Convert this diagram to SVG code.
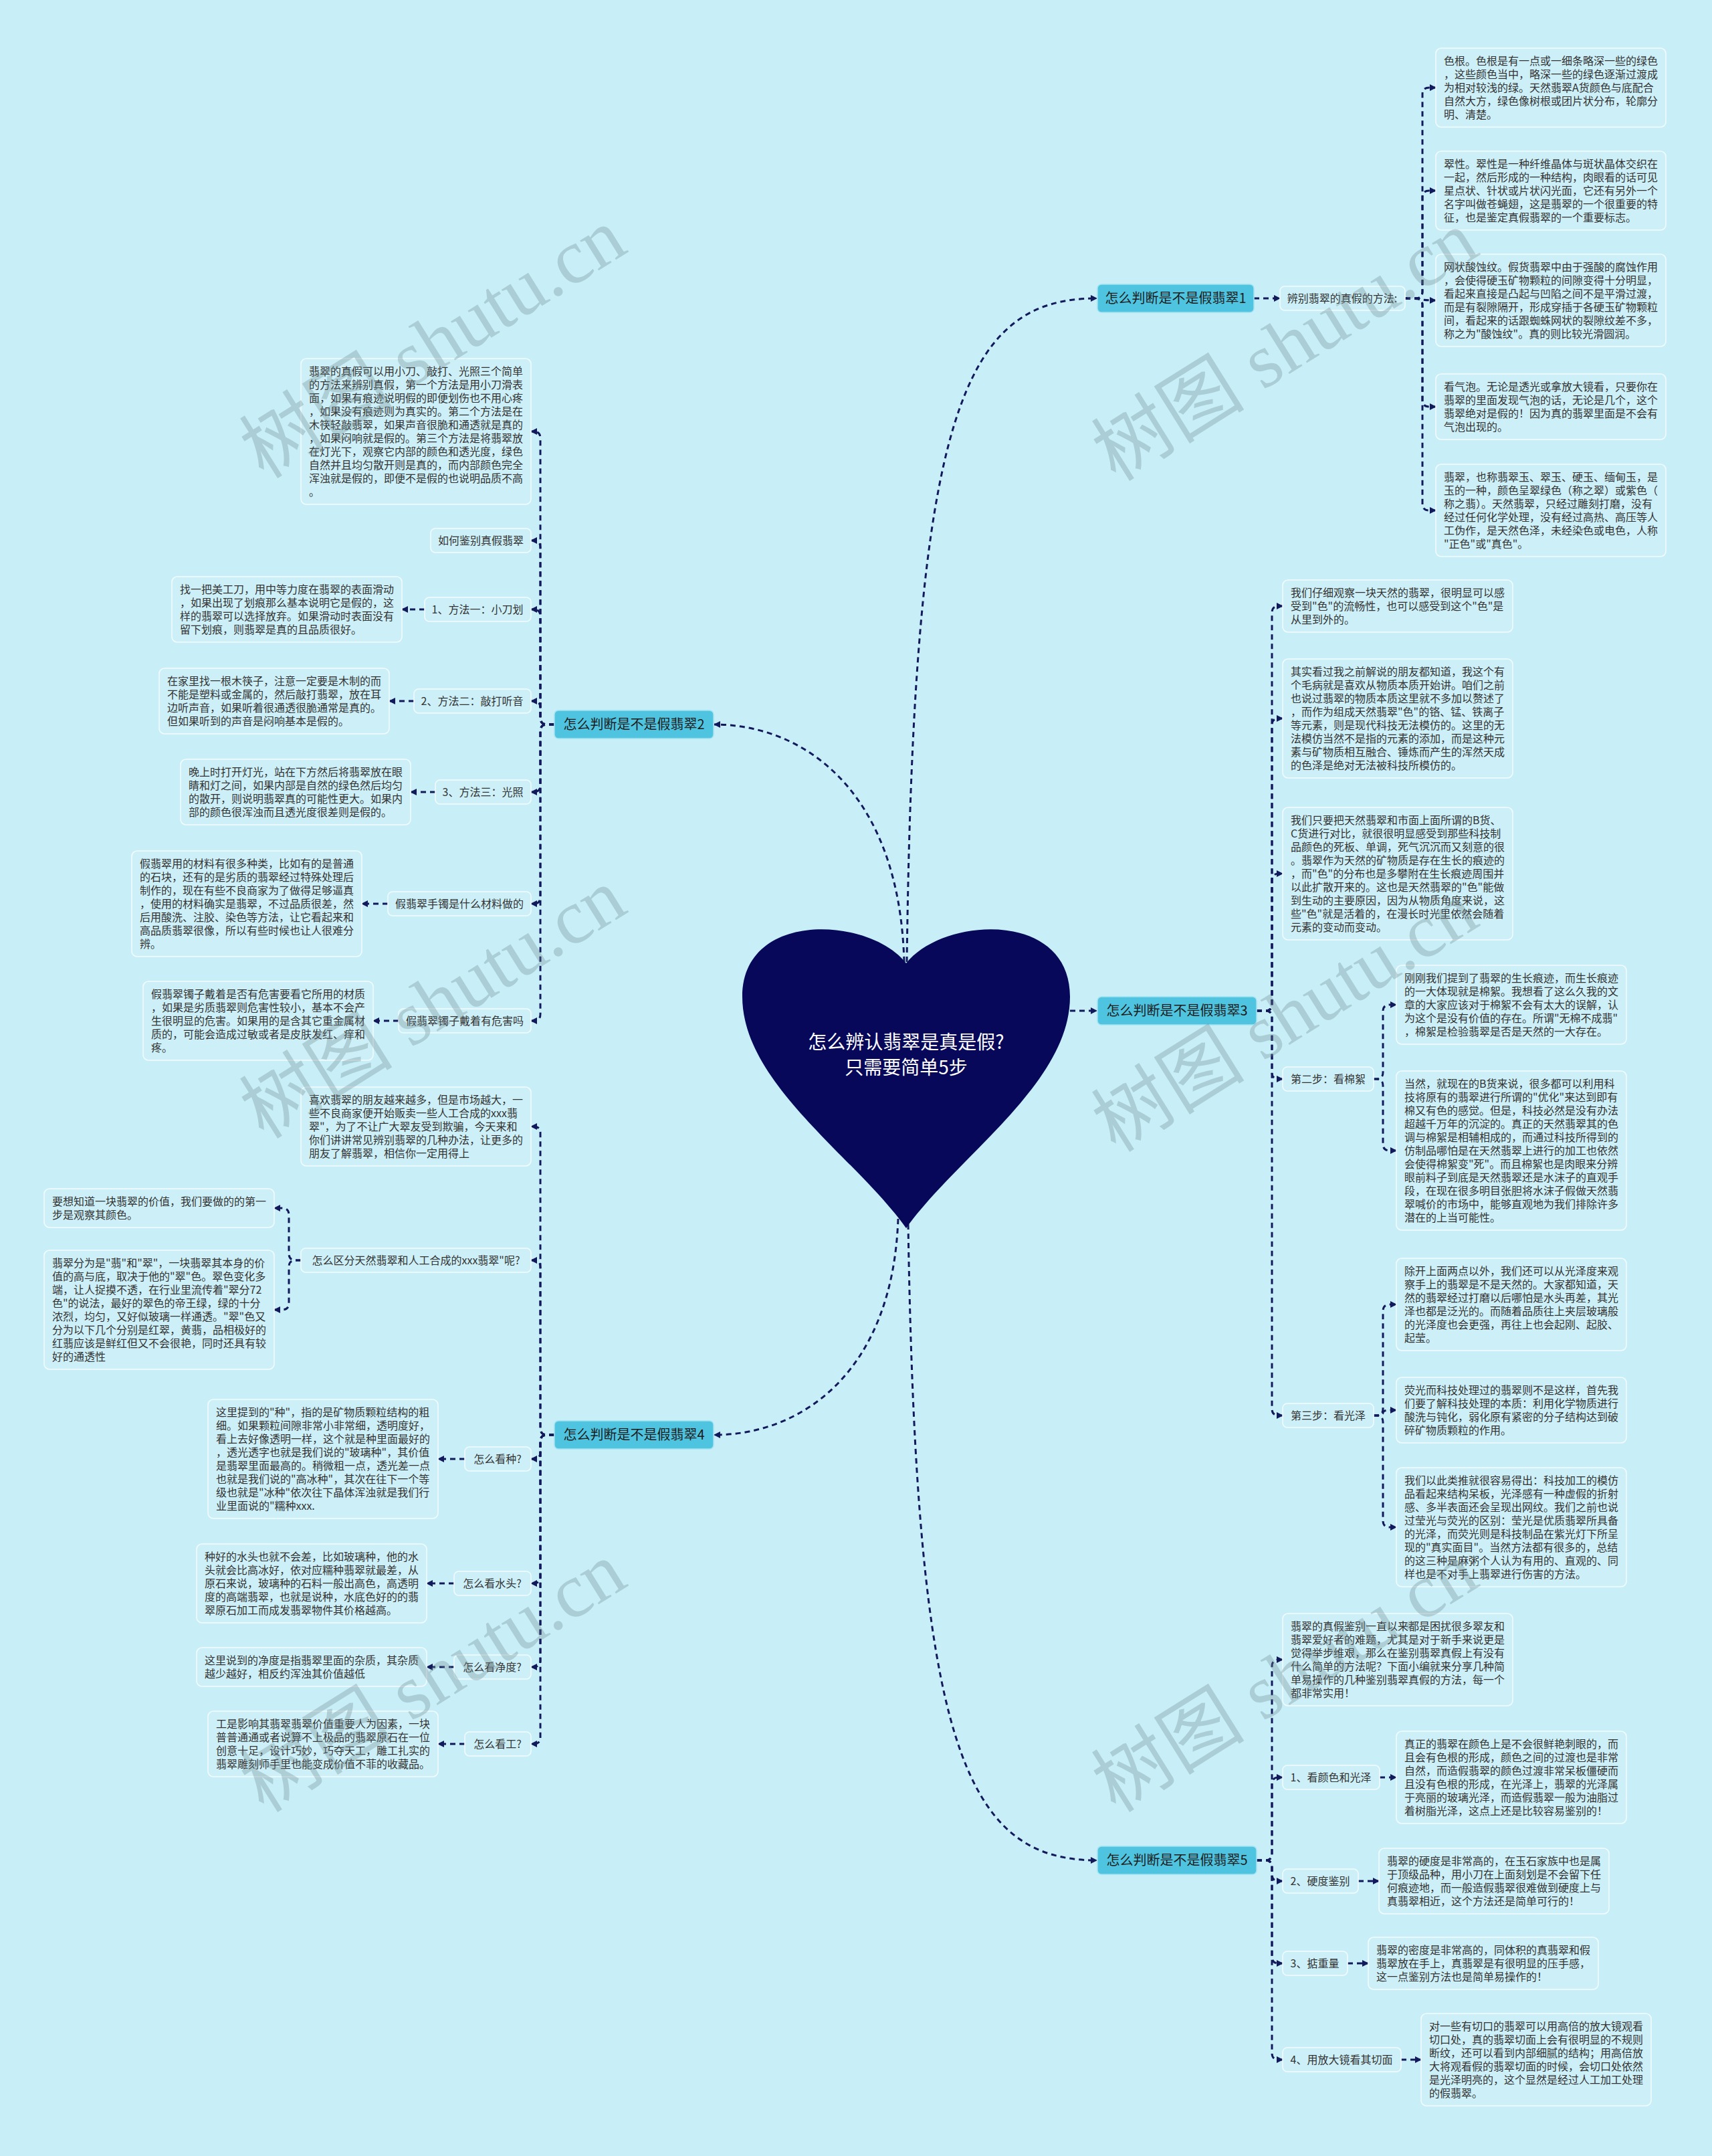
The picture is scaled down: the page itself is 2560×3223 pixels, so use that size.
<svg xmlns="http://www.w3.org/2000/svg" width="2560" height="3223" viewBox="0 0 2560 3223">
<defs>
<marker id="ar" viewBox="0 0 10 10" refX="9" refY="5" markerWidth="10" markerHeight="10" markerUnits="userSpaceOnUse" orient="auto"><path d="M0,0 L10,5 L0,10 z" fill="#121a5c"/></marker>
<style>
.box{fill:#cdf0f8;stroke:#f2fbfd;stroke-width:1.6}
.t{font-family:"Noto Sans CJK SC","Noto Sans",sans-serif;font-size:16px;fill:#333}
.lb{font-family:"Noto Sans CJK SC","Noto Sans",sans-serif;font-size:16px;fill:#333;text-anchor:middle}
.br{fill:#4fc4e0;stroke:#a3e2f0;stroke-width:1.6}
.bt{font-family:"Noto Sans CJK SC","Noto Sans",sans-serif;font-size:20px;fill:#1c1c1c;text-anchor:middle}
.cn{fill:none;stroke:#121a5c;stroke-width:3;stroke-dasharray:8 6;marker-end:url(#ar)}
.wm{font-family:"Liberation Serif","Noto Sans CJK SC",serif;font-size:115px;fill:#6f8a90;fill-opacity:0.33;text-anchor:middle}
</style>
</defs>
<rect x="0" y="0" width="2560" height="3223" fill="#c8eff8"/>

<g id="connectors">
<path class="cn" d="M1356,1438 C1366,620 1440,446 1640,446"/>
<path class="cn" d="M1352,1438 C1345,1180 1200,1083 1068,1083"/>
<path class="cn" d="M1600,1511 L1640,1511"/>
<path class="cn" d="M1343,1822 C1335,2050 1200,2145 1068,2145"/>
<path class="cn" d="M1358,1830 C1370,2600 1440,2781 1640,2781"/>

<path class="cn" d="M1875,446 L1914,446"/>
<path class="cn" d="M2101,446 L2117,446 Q2127,446 2127,436 L2127,141 Q2127,131 2137,131 L2147,131"/>
<path class="cn" d="M2101,446 L2117,446 Q2127,446 2127,436 L2127,295 Q2127,285 2137,285 L2147,285"/>
<path class="cn" d="M2101,446 C2127,446 2121,449 2147,449"/>
<path class="cn" d="M2101,446 L2117,446 Q2127,446 2127,456 L2127,598 Q2127,608 2137,608 L2147,608"/>
<path class="cn" d="M2101,446 L2117,446 Q2127,446 2127,456 L2127,753 Q2127,763 2137,763 L2147,763"/>

<path class="cn" d="M829,1083 L818,1083 Q808,1083 808,1073 L808,655 Q808,645 798,645 L794,645"/>
<path class="cn" d="M829,1083 L818,1083 Q808,1083 808,1073 L808,818 Q808,808 798,808 L794,808"/>
<path class="cn" d="M829,1083 L818,1083 Q808,1083 808,1073 L808,921 Q808,911 798,911 L794,911"/>
<path class="cn" d="M829,1083 L818,1083 Q808,1083 808,1073 L808,1058 Q808,1048 798,1048 L794,1048"/>
<path class="cn" d="M829,1083 L818,1083 Q808,1083 808,1093 L808,1174 Q808,1184 798,1184 L794,1184"/>
<path class="cn" d="M829,1083 L818,1083 Q808,1083 808,1093 L808,1341 Q808,1351 798,1351 L794,1351"/>
<path class="cn" d="M829,1083 L818,1083 Q808,1083 808,1093 L808,1516 Q808,1526 798,1526 L794,1526"/>
<path class="cn" d="M635,911 L601,911"/>
<path class="cn" d="M619,1048 L582,1048"/>
<path class="cn" d="M651,1184 L614,1184"/>
<path class="cn" d="M580,1351 L541,1351"/>
<path class="cn" d="M596,1526 L558,1526"/>

<path class="cn" d="M829,2145 L818,2145 Q808,2145 808,2135 L808,1694 Q808,1684 798,1684 L794,1684"/>
<path class="cn" d="M829,2145 L818,2145 Q808,2145 808,2135 L808,1894 Q808,1884 798,1884 L794,1884"/>
<path class="cn" d="M829,2145 L818,2145 Q808,2145 808,2155 L808,2171 Q808,2181 798,2181 L794,2181"/>
<path class="cn" d="M829,2145 L818,2145 Q808,2145 808,2155 L808,2357 Q808,2367 798,2367 L794,2367"/>
<path class="cn" d="M829,2145 L818,2145 Q808,2145 808,2155 L808,2482 Q808,2492 798,2492 L794,2492"/>
<path class="cn" d="M829,2145 L818,2145 Q808,2145 808,2155 L808,2597 Q808,2607 798,2607 L794,2607"/>
<path class="cn" d="M450,1884 L442,1884 Q432,1884 432,1874 L432,1816 Q432,1806 422,1806 L410,1806"/>
<path class="cn" d="M450,1884 L442,1884 Q432,1884 432,1894 L432,1948 Q432,1958 422,1958 L410,1958"/>
<path class="cn" d="M695,2181 L655,2181"/>
<path class="cn" d="M679,2367 L638,2367"/>
<path class="cn" d="M679,2492 L638,2492"/>
<path class="cn" d="M695,2607 L655,2607"/>

<path class="cn" d="M1879,1511 L1892,1511 Q1902,1511 1902,1501 L1902,916 Q1902,906 1912,906 L1918,906"/>
<path class="cn" d="M1879,1511 L1892,1511 Q1902,1511 1902,1501 L1902,1084 Q1902,1074 1912,1074 L1918,1074"/>
<path class="cn" d="M1879,1511 L1892,1511 Q1902,1511 1902,1501 L1902,1316 Q1902,1306 1912,1306 L1918,1306"/>
<path class="cn" d="M1879,1511 L1892,1511 Q1902,1511 1902,1521 L1902,1603 Q1902,1613 1912,1613 L1918,1613"/>
<path class="cn" d="M1879,1511 L1892,1511 Q1902,1511 1902,1521 L1902,2106 Q1902,2116 1912,2116 L1918,2116"/>
<path class="cn" d="M2054,1613 L2058,1613 Q2068,1613 2068,1603 L2068,1512 Q2068,1502 2078,1502 L2088,1502"/>
<path class="cn" d="M2054,1613 L2058,1613 Q2068,1613 2068,1623 L2068,1710 Q2068,1720 2078,1720 L2088,1720"/>
<path class="cn" d="M2054,2116 L2058,2116 Q2068,2116 2068,2106 L2068,1960 Q2068,1950 2078,1950 L2088,1950"/>
<path class="cn" d="M2054,2116 L2058,2116 Q2068,2116 2068,2112 Q2068,2108 2078,2108 L2088,2108"/>
<path class="cn" d="M2054,2116 L2058,2116 Q2068,2116 2068,2126 L2068,2273 Q2068,2283 2078,2283 L2088,2283"/>

<path class="cn" d="M1879,2781 L1892,2781 Q1902,2781 1902,2771 L1902,2491 Q1902,2481 1912,2481 L1918,2481"/>
<path class="cn" d="M1879,2781 L1892,2781 Q1902,2781 1902,2771 L1902,2667 Q1902,2657 1912,2657 L1918,2657"/>
<path class="cn" d="M1879,2781 L1892,2781 Q1902,2781 1902,2791 L1902,2802 Q1902,2812 1912,2812 L1918,2812"/>
<path class="cn" d="M1879,2781 L1892,2781 Q1902,2781 1902,2791 L1902,2925 Q1902,2935 1912,2935 L1918,2935"/>
<path class="cn" d="M1879,2781 L1892,2781 Q1902,2781 1902,2791 L1902,3069 Q1902,3079 1912,3079 L1918,3079"/>
<path class="cn" d="M2063,2657 L2088,2657"/>
<path class="cn" d="M2031,2812 L2062,2812"/>
<path class="cn" d="M2015,2935 L2046,2935"/>
<path class="cn" d="M2095,3079 L2125,3079"/>
</g>

<g id="center">
<path d="M1355,1440 C1300,1370 1110,1360 1110,1490 C1110,1620 1280,1730 1355,1836 C1430,1730 1600,1620 1600,1490 C1600,1360 1410,1370 1355,1440 Z" fill="#07085a"/>
<text font-family="Noto Sans CJK SC, Noto Sans, sans-serif" font-size="28" fill="#ffffff" text-anchor="middle"><tspan x="1355" y="1568">怎么辨认翡翠是真是假?</tspan><tspan x="1355" y="1606">只需要简单5步</tspan></text>
</g>

<g id="b1"><rect class="br" x="1641" y="425" width="234" height="42" rx="6"/><text class="bt" x="1758" y="453">怎么判断是不是假翡翠1</text></g>
<g id="b2"><rect class="br" x="829" y="1062" width="238" height="42" rx="6"/><text class="bt" x="948" y="1090">怎么判断是不是假翡翠2</text></g>
<g id="b3"><rect class="br" x="1641" y="1490" width="238" height="42" rx="6"/><text class="bt" x="1760" y="1518">怎么判断是不是假翡翠3</text></g>
<g id="b4"><rect class="br" x="829" y="2124" width="238" height="42" rx="6"/><text class="bt" x="948" y="2152">怎么判断是不是假翡翠4</text></g>
<g id="b5"><rect class="br" x="1641" y="2760" width="238" height="42" rx="6"/><text class="bt" x="1760" y="2788">怎么判断是不是假翡翠5</text></g>

<g id="l-bianbie"><rect class="box" x="1914" y="428" width="187" height="36" rx="7"/><text class="lb" x="2007" y="452">辨别翡翠的真假的方法:</text></g>
<g id="n1-1"><rect class="box" x="2147" y="72" width="344" height="118" rx="8"/><text class="t"><tspan x="2159" y="97">色根。色根是有一点或一细条略深一些的绿色</tspan><tspan x="2159" dy="20">，这些颜色当中，略深一些的绿色逐渐过渡成</tspan><tspan x="2159" dy="20">为相对较浅的绿。天然翡翠A货颜色与底配合</tspan><tspan x="2159" dy="20">自然大方，绿色像树根或团片状分布，轮廓分</tspan><tspan x="2159" dy="20">明、清楚。</tspan></text></g>
<g id="n1-2"><rect class="box" x="2147" y="226" width="344" height="118" rx="8"/><text class="t"><tspan x="2159" y="251">翠性。翠性是一种纤维晶体与斑状晶体交织在</tspan><tspan x="2159" dy="20">一起，然后形成的一种结构，肉眼看的话可见</tspan><tspan x="2159" dy="20">星点状、针状或片状闪光面，它还有另外一个</tspan><tspan x="2159" dy="20">名字叫做苍蝇翅，这是翡翠的一个很重要的特</tspan><tspan x="2159" dy="20">征，也是鉴定真假翡翠的一个重要标志。</tspan></text></g>
<g id="n1-3"><rect class="box" x="2147" y="380" width="344" height="138" rx="8"/><text class="t"><tspan x="2159" y="405">网状酸蚀纹。假货翡翠中由于强酸的腐蚀作用</tspan><tspan x="2159" dy="20">，会使得硬玉矿物颗粒的间隙变得十分明显，</tspan><tspan x="2159" dy="20">看起来直接是凸起与凹陷之间不是平滑过渡，</tspan><tspan x="2159" dy="20">而是有裂隙隔开，形成穿插于各硬玉矿物颗粒</tspan><tspan x="2159" dy="20">间，看起来的话跟蜘蛛网状的裂隙纹差不多，</tspan><tspan x="2159" dy="20">称之为"酸蚀纹"。真的则比较光滑圆润。</tspan></text></g>
<g id="n1-4"><rect class="box" x="2147" y="559" width="344" height="98" rx="8"/><text class="t"><tspan x="2159" y="584">看气泡。无论是透光或拿放大镜看，只要你在</tspan><tspan x="2159" dy="20">翡翠的里面发现气泡的话，无论是几个，这个</tspan><tspan x="2159" dy="20">翡翠绝对是假的！因为真的翡翠里面是不会有</tspan><tspan x="2159" dy="20">气泡出现的。</tspan></text></g>
<g id="n1-5"><rect class="box" x="2147" y="694" width="344" height="138" rx="8"/><text class="t"><tspan x="2159" y="719">翡翠，也称翡翠玉、翠玉、硬玉、缅甸玉，是</tspan><tspan x="2159" dy="20">玉的一种，颜色呈翠绿色（称之翠）或紫色（</tspan><tspan x="2159" dy="20">称之翡）。天然翡翠，只经过雕刻打磨，没有</tspan><tspan x="2159" dy="20">经过任何化学处理，没有经过高热、高压等人</tspan><tspan x="2159" dy="20">工伪作，是天然色泽，未经染色或电色，人称</tspan><tspan x="2159" dy="20">"正色"或"真色"。</tspan></text></g>

<g id="n2-a"><rect class="box" x="450" y="536" width="344" height="218" rx="8"/><text class="t"><tspan x="462" y="561">翡翠的真假可以用小刀、敲打、光照三个简单</tspan><tspan x="462" dy="20">的方法来辨别真假，第一个方法是用小刀滑表</tspan><tspan x="462" dy="20">面，如果有痕迹说明假的即便划伤也不用心疼</tspan><tspan x="462" dy="20">，如果没有痕迹则为真实的。第二个方法是在</tspan><tspan x="462" dy="20">木筷轻敲翡翠，如果声音很脆和通透就是真的</tspan><tspan x="462" dy="20">，如果闷响就是假的。第三个方法是将翡翠放</tspan><tspan x="462" dy="20">在灯光下，观察它内部的颜色和透光度，绿色</tspan><tspan x="462" dy="20">自然并且均匀散开则是真的，而内部颜色完全</tspan><tspan x="462" dy="20">浑浊就是假的，即便不是假的也说明品质不高</tspan><tspan x="462" dy="20">。</tspan></text></g>
<g id="l-ruhe"><rect class="box" x="644" y="790" width="150" height="36" rx="7"/><text class="lb" x="719" y="814">如何鉴别真假翡翠</text></g>
<g id="l-m1"><rect class="box" x="635" y="893" width="159" height="36" rx="7"/><text class="lb" x="714" y="917">1、方法一：小刀划</text></g>
<g id="n2-b"><rect class="box" x="257" y="862" width="344" height="98" rx="8"/><text class="t"><tspan x="269" y="887">找一把美工刀，用中等力度在翡翠的表面滑动</tspan><tspan x="269" dy="20">，如果出现了划痕那么基本说明它是假的，这</tspan><tspan x="269" dy="20">样的翡翠可以选择放弃。如果滑动时表面没有</tspan><tspan x="269" dy="20">留下划痕，则翡翠是真的且品质很好。</tspan></text></g>
<g id="l-m2"><rect class="box" x="619" y="1030" width="175" height="36" rx="7"/><text class="lb" x="706" y="1054">2、方法二：敲打听音</text></g>
<g id="n2-c"><rect class="box" x="238" y="999" width="344" height="98" rx="8"/><text class="t"><tspan x="250" y="1024">在家里找一根木筷子，注意一定要是木制的而</tspan><tspan x="250" dy="20">不能是塑料或金属的，然后敲打翡翠，放在耳</tspan><tspan x="250" dy="20">边听声音，如果听着很通透很脆通常是真的。</tspan><tspan x="250" dy="20">但如果听到的声音是闷响基本是假的。</tspan></text></g>
<g id="l-m3"><rect class="box" x="651" y="1166" width="143" height="36" rx="7"/><text class="lb" x="722" y="1190">3、方法三：光照</text></g>
<g id="n2-d"><rect class="box" x="270" y="1135" width="344" height="98" rx="8"/><text class="t"><tspan x="282" y="1160">晚上时打开灯光，站在下方然后将翡翠放在眼</tspan><tspan x="282" dy="20">睛和灯之间，如果内部是自然的绿色然后均匀</tspan><tspan x="282" dy="20">的散开，则说明翡翠真的可能性更大。如果内</tspan><tspan x="282" dy="20">部的颜色很浑浊而且透光度很差则是假的。</tspan></text></g>
<g id="l-sz"><rect class="box" x="580" y="1333" width="214" height="36" rx="7"/><text class="lb" x="687" y="1357">假翡翠手镯是什么材料做的</text></g>
<g id="n2-e"><rect class="box" x="197" y="1272" width="344" height="158" rx="8"/><text class="t"><tspan x="209" y="1297">假翡翠用的材料有很多种类，比如有的是普通</tspan><tspan x="209" dy="20">的石块，还有的是劣质的翡翠经过特殊处理后</tspan><tspan x="209" dy="20">制作的，现在有些不良商家为了做得足够逼真</tspan><tspan x="209" dy="20">，使用的材料确实是翡翠，不过品质很差，然</tspan><tspan x="209" dy="20">后用酸洗、注胶、染色等方法，让它看起来和</tspan><tspan x="209" dy="20">高品质翡翠很像，所以有些时候也让人很难分</tspan><tspan x="209" dy="20">辨。</tspan></text></g>
<g id="l-zz"><rect class="box" x="596" y="1508" width="198" height="36" rx="7"/><text class="lb" x="695" y="1532">假翡翠镯子戴着有危害吗</text></g>
<g id="n2-f"><rect class="box" x="214" y="1467" width="344" height="118" rx="8"/><text class="t"><tspan x="226" y="1492">假翡翠镯子戴着是否有危害要看它所用的材质</tspan><tspan x="226" dy="20">，如果是劣质翡翠则危害性较小，基本不会产</tspan><tspan x="226" dy="20">生很明显的危害。如果用的是含其它重金属材</tspan><tspan x="226" dy="20">质的，可能会造成过敏或者是皮肤发红、痒和</tspan><tspan x="226" dy="20">疼。</tspan></text></g>

<g id="n4-g"><rect class="box" x="450" y="1625" width="344" height="118" rx="8"/><text class="t"><tspan x="462" y="1650">喜欢翡翠的朋友越来越多，但是市场越大，一</tspan><tspan x="462" dy="20">些不良商家便开始贩卖一些人工合成的xxx翡</tspan><tspan x="462" dy="20">翠"，为了不让广大翠友受到欺骗，今天来和</tspan><tspan x="462" dy="20">你们讲讲常见辨别翡翠的几种办法，让更多的</tspan><tspan x="462" dy="20">朋友了解翡翠，相信你一定用得上</tspan></text></g>
<g id="l-qf"><rect class="box" x="450" y="1866" width="344" height="36" rx="7"/><text class="lb" x="622" y="1890">怎么区分天然翡翠和人工合成的xxx翡翠"呢?</text></g>
<g id="n4-h"><rect class="box" x="66" y="1777" width="344" height="58" rx="8"/><text class="t"><tspan x="78" y="1802">要想知道一块翡翠的价值，我们要做的的第一</tspan><tspan x="78" dy="20">步是观察其颜色。</tspan></text></g>
<g id="n4-i"><rect class="box" x="66" y="1869" width="344" height="178" rx="8"/><text class="t"><tspan x="78" y="1894">翡翠分为是"翡"和"翠"，一块翡翠其本身的价</tspan><tspan x="78" dy="20">值的高与底，取决于他的"翠"色。翠色变化多</tspan><tspan x="78" dy="20">端，让人捉摸不透，在行业里流传着"翠分72</tspan><tspan x="78" dy="20">色"的说法，最好的翠色的帝王绿，绿的十分</tspan><tspan x="78" dy="20">浓烈，均匀，又好似玻璃一样通透。"翠"色又</tspan><tspan x="78" dy="20">分为以下几个分别是红翠，黄翡，品相极好的</tspan><tspan x="78" dy="20">红翡应该是鲜红但又不会很艳，同时还具有较</tspan><tspan x="78" dy="20">好的通透性</tspan></text></g>
<g id="l-zhong"><rect class="box" x="695" y="2163" width="99" height="36" rx="7"/><text class="lb" x="744" y="2187">怎么看种?</text></g>
<g id="n4-j"><rect class="box" x="311" y="2092" width="344" height="178" rx="8"/><text class="t"><tspan x="323" y="2117">这里提到的"种"，指的是矿物质颗粒结构的粗</tspan><tspan x="323" dy="20">细。如果颗粒间隙非常小非常细，透明度好，</tspan><tspan x="323" dy="20">看上去好像透明一样，这个就是种里面最好的</tspan><tspan x="323" dy="20">，透光透字也就是我们说的"玻璃种"，其价值</tspan><tspan x="323" dy="20">是翡翠里面最高的。稍微粗一点，透光差一点</tspan><tspan x="323" dy="20">也就是我们说的"高冰种"，其次在往下一个等</tspan><tspan x="323" dy="20">级也就是"冰种"依次往下晶体浑浊就是我们行</tspan><tspan x="323" dy="20">业里面说的"糯种xxx.</tspan></text></g>
<g id="l-shuitou"><rect class="box" x="679" y="2349" width="115" height="36" rx="7"/><text class="lb" x="736" y="2373">怎么看水头?</text></g>
<g id="n4-k"><rect class="box" x="294" y="2308" width="344" height="118" rx="8"/><text class="t"><tspan x="306" y="2333">种好的水头也就不会差，比如玻璃种，他的水</tspan><tspan x="306" dy="20">头就会比高冰好，依对应糯种翡翠就最差，从</tspan><tspan x="306" dy="20">原石来说，玻璃种的石料一般出高色，高透明</tspan><tspan x="306" dy="20">度的高端翡翠，也就是说种，水底色好的的翡</tspan><tspan x="306" dy="20">翠原石加工而成发翡翠物件其价格越高。</tspan></text></g>
<g id="l-jingdu"><rect class="box" x="679" y="2474" width="115" height="36" rx="7"/><text class="lb" x="736" y="2498">怎么看净度?</text></g>
<g id="n4-l"><rect class="box" x="294" y="2463" width="344" height="58" rx="8"/><text class="t"><tspan x="306" y="2488">这里说到的净度是指翡翠里面的杂质，其杂质</tspan><tspan x="306" dy="20">越少越好，相反约浑浊其价值越低</tspan></text></g>
<g id="l-gong"><rect class="box" x="695" y="2589" width="99" height="36" rx="7"/><text class="lb" x="744" y="2613">怎么看工?</text></g>
<g id="n4-m"><rect class="box" x="311" y="2558" width="344" height="98" rx="8"/><text class="t"><tspan x="323" y="2583">工是影响其翡翠翡翠价值重要人为因素，一块</tspan><tspan x="323" dy="20">普普通通或者说算不上极品的翡翠原石在一位</tspan><tspan x="323" dy="20">创意十足，设计巧妙，巧夺天工，雕工扎实的</tspan><tspan x="323" dy="20">翡翠雕刻师手里也能变成价值不菲的收藏品。</tspan></text></g>

<g id="n3-n"><rect class="box" x="1918" y="867" width="344" height="78" rx="8"/><text class="t"><tspan x="1930" y="892">我们仔细观察一块天然的翡翠，很明显可以感</tspan><tspan x="1930" dy="20">受到"色"的流畅性，也可以感受到这个"色"是</tspan><tspan x="1930" dy="20">从里到外的。</tspan></text></g>
<g id="n3-o"><rect class="box" x="1918" y="985" width="344" height="178" rx="8"/><text class="t"><tspan x="1930" y="1010">其实看过我之前解说的朋友都知道，我这个有</tspan><tspan x="1930" dy="20">个毛病就是喜欢从物质本质开始讲。咱们之前</tspan><tspan x="1930" dy="20">也说过翡翠的物质本质这里就不多加以赘述了</tspan><tspan x="1930" dy="20">，而作为组成天然翡翠"色"的铬、锰、铁离子</tspan><tspan x="1930" dy="20">等元素，则是现代科技无法模仿的。这里的无</tspan><tspan x="1930" dy="20">法模仿当然不是指的元素的添加，而是这种元</tspan><tspan x="1930" dy="20">素与矿物质相互融合、锤炼而产生的浑然天成</tspan><tspan x="1930" dy="20">的色泽是绝对无法被科技所模仿的。</tspan></text></g>
<g id="n3-p"><rect class="box" x="1918" y="1207" width="344" height="198" rx="8"/><text class="t"><tspan x="1930" y="1232">我们只要把天然翡翠和市面上面所谓的B货、</tspan><tspan x="1930" dy="20">C货进行对比，就很很明显感受到那些科技制</tspan><tspan x="1930" dy="20">品颜色的死板、单调，死气沉沉而又刻意的很</tspan><tspan x="1930" dy="20">。翡翠作为天然的矿物质是存在生长的痕迹的</tspan><tspan x="1930" dy="20">，而"色"的分布也是多攀附在生长痕迹周围并</tspan><tspan x="1930" dy="20">以此扩散开来的。这也是天然翡翠的"色"能做</tspan><tspan x="1930" dy="20">到生动的主要原因，因为从物质角度来说，这</tspan><tspan x="1930" dy="20">些"色"就是活着的，在漫长时光里依然会随着</tspan><tspan x="1930" dy="20">元素的变动而变动。</tspan></text></g>
<g id="l-step2"><rect class="box" x="1918" y="1595" width="136" height="36" rx="7"/><text class="lb" x="1986" y="1619">第二步：看棉絮</text></g>
<g id="n3-q"><rect class="box" x="2088" y="1443" width="344" height="118" rx="8"/><text class="t"><tspan x="2100" y="1468">刚刚我们提到了翡翠的生长痕迹，而生长痕迹</tspan><tspan x="2100" dy="20">的一大体现就是棉絮。我想看了这么久我的文</tspan><tspan x="2100" dy="20">章的大家应该对于棉絮不会有太大的误解，认</tspan><tspan x="2100" dy="20">为这个是没有价值的存在。所谓"无棉不成翡"</tspan><tspan x="2100" dy="20">，棉絮是检验翡翠是否是天然的一大存在。</tspan></text></g>
<g id="n3-r"><rect class="box" x="2088" y="1601" width="344" height="238" rx="8"/><text class="t"><tspan x="2100" y="1626">当然，就现在的B货来说，很多都可以利用科</tspan><tspan x="2100" dy="20">技将原有的翡翠进行所谓的"优化"来达到即有</tspan><tspan x="2100" dy="20">棉又有色的感觉。但是，科技必然是没有办法</tspan><tspan x="2100" dy="20">超越千万年的沉淀的。真正的天然翡翠其的色</tspan><tspan x="2100" dy="20">调与棉絮是相辅相成的，而通过科技所得到的</tspan><tspan x="2100" dy="20">仿制品哪怕是在天然翡翠上进行的加工也依然</tspan><tspan x="2100" dy="20">会使得棉絮变"死"。而且棉絮也是肉眼来分辨</tspan><tspan x="2100" dy="20">眼前料子到底是天然翡翠还是水沫子的直观手</tspan><tspan x="2100" dy="20">段，在现在很多明目张胆将水沫子假做天然翡</tspan><tspan x="2100" dy="20">翠喊价的市场中，能够直观地为我们排除许多</tspan><tspan x="2100" dy="20">潜在的上当可能性。</tspan></text></g>
<g id="l-step3"><rect class="box" x="1918" y="2098" width="136" height="36" rx="7"/><text class="lb" x="1986" y="2122">第三步：看光泽</text></g>
<g id="n3-s"><rect class="box" x="2088" y="1881" width="344" height="138" rx="8"/><text class="t"><tspan x="2100" y="1906">除开上面两点以外，我们还可以从光泽度来观</tspan><tspan x="2100" dy="20">察手上的翡翠是不是天然的。大家都知道，天</tspan><tspan x="2100" dy="20">然的翡翠经过打磨以后哪怕是水头再差，其光</tspan><tspan x="2100" dy="20">泽也都是泛光的。而随着品质往上夹层玻璃般</tspan><tspan x="2100" dy="20">的光泽度也会更强，再往上也会起刚、起胶、</tspan><tspan x="2100" dy="20">起莹。</tspan></text></g>
<g id="n3-t"><rect class="box" x="2088" y="2059" width="344" height="98" rx="8"/><text class="t"><tspan x="2100" y="2084">荧光而科技处理过的翡翠则不是这样，首先我</tspan><tspan x="2100" dy="20">们要了解科技处理的本质：利用化学物质进行</tspan><tspan x="2100" dy="20">酸洗与钝化，弱化原有紧密的分子结构达到破</tspan><tspan x="2100" dy="20">碎矿物质颗粒的作用。</tspan></text></g>
<g id="n3-u"><rect class="box" x="2088" y="2194" width="344" height="178" rx="8"/><text class="t"><tspan x="2100" y="2219">我们以此类推就很容易得出：科技加工的模仿</tspan><tspan x="2100" dy="20">品看起来结构呆板，光泽感有一种虚假的折射</tspan><tspan x="2100" dy="20">感、多半表面还会呈现出网纹。我们之前也说</tspan><tspan x="2100" dy="20">过莹光与荧光的区别：莹光是优质翡翠所具备</tspan><tspan x="2100" dy="20">的光泽，而荧光则是科技制品在紫光灯下所呈</tspan><tspan x="2100" dy="20">现的"真实面目"。当然方法都有很多的，总结</tspan><tspan x="2100" dy="20">的这三种是麻粥个人认为有用的、直观的、同</tspan><tspan x="2100" dy="20">样也是不对手上翡翠进行伤害的方法。</tspan></text></g>

<g id="n5-v"><rect class="box" x="1918" y="2412" width="344" height="138" rx="8"/><text class="t"><tspan x="1930" y="2437">翡翠的真假鉴别一直以来都是困扰很多翠友和</tspan><tspan x="1930" dy="20">翡翠爱好者的难题，尤其是对于新手来说更是</tspan><tspan x="1930" dy="20">觉得举步维艰，那么在鉴别翡翠真假上有没有</tspan><tspan x="1930" dy="20">什么简单的方法呢？下面小编就来分享几种简</tspan><tspan x="1930" dy="20">单易操作的几种鉴别翡翠真假的方法，每一个</tspan><tspan x="1930" dy="20">都非常实用！</tspan></text></g>
<g id="l-b1"><rect class="box" x="1918" y="2639" width="145" height="36" rx="7"/><text class="lb" x="1990" y="2663">1、看颜色和光泽</text></g>
<g id="n5-w"><rect class="box" x="2088" y="2588" width="344" height="138" rx="8"/><text class="t"><tspan x="2100" y="2613">真正的翡翠在颜色上是不会很鲜艳刺眼的，而</tspan><tspan x="2100" dy="20">且会有色根的形成，颜色之间的过渡也是非常</tspan><tspan x="2100" dy="20">自然，而造假翡翠的颜色过渡非常呆板僵硬而</tspan><tspan x="2100" dy="20">且没有色根的形成，在光泽上，翡翠的光泽属</tspan><tspan x="2100" dy="20">于亮丽的玻璃光泽，而造假翡翠一般为油脂过</tspan><tspan x="2100" dy="20">着树脂光泽，这点上还是比较容易鉴别的！</tspan></text></g>
<g id="l-b2"><rect class="box" x="1918" y="2794" width="113" height="36" rx="7"/><text class="lb" x="1974" y="2818">2、硬度鉴别</text></g>
<g id="n5-x"><rect class="box" x="2062" y="2763" width="344" height="98" rx="8"/><text class="t"><tspan x="2074" y="2788">翡翠的硬度是非常高的，在玉石家族中也是属</tspan><tspan x="2074" dy="20">于顶级品种，用小刀在上面刻划是不会留下任</tspan><tspan x="2074" dy="20">何痕迹地，而一般造假翡翠很难做到硬度上与</tspan><tspan x="2074" dy="20">真翡翠相近，这个方法还是简单可行的！</tspan></text></g>
<g id="l-b3"><rect class="box" x="1918" y="2917" width="97" height="36" rx="7"/><text class="lb" x="1966" y="2941">3、掂重量</text></g>
<g id="n5-y"><rect class="box" x="2046" y="2896" width="344" height="78" rx="8"/><text class="t"><tspan x="2058" y="2921">翡翠的密度是非常高的，同体积的真翡翠和假</tspan><tspan x="2058" dy="20">翡翠放在手上，真翡翠是有很明显的压手感，</tspan><tspan x="2058" dy="20">这一点鉴别方法也是简单易操作的！</tspan></text></g>
<g id="l-b4"><rect class="box" x="1918" y="3061" width="177" height="36" rx="7"/><text class="lb" x="2006" y="3085">4、用放大镜看其切面</text></g>
<g id="n5-z"><rect class="box" x="2125" y="3010" width="344" height="138" rx="8"/><text class="t"><tspan x="2137" y="3035">对一些有切口的翡翠可以用高倍的放大镜观看</tspan><tspan x="2137" dy="20">切口处，真的翡翠切面上会有很明显的不规则</tspan><tspan x="2137" dy="20">断纹，还可以看到内部细腻的结构；用高倍放</tspan><tspan x="2137" dy="20">大将观看假的翡翠切面的时候，会切口处依然</tspan><tspan x="2137" dy="20">是光泽明亮的，这个显然是经过人工加工处理</tspan><tspan x="2137" dy="20">的假翡翠。</tspan></text></g>

<g id="watermarks">
<text class="wm" x="648" y="514" dy="38" transform="rotate(-32 648 514)">树图 shutu.cn</text>
<text class="wm" x="648" y="1501" dy="38" transform="rotate(-32 648 1501)">树图 shutu.cn</text>
<text class="wm" x="648" y="2508" dy="38" transform="rotate(-32 648 2508)">树图 shutu.cn</text>
<text class="wm" x="1922" y="518" dy="38" transform="rotate(-32 1922 518)">树图 shutu.cn</text>
<text class="wm" x="1922" y="1521" dy="38" transform="rotate(-32 1922 1521)">树图 shutu.cn</text>
<text class="wm" x="1922" y="2508" dy="38" transform="rotate(-32 1922 2508)">树图 shutu.cn</text>
</g>
</svg>
